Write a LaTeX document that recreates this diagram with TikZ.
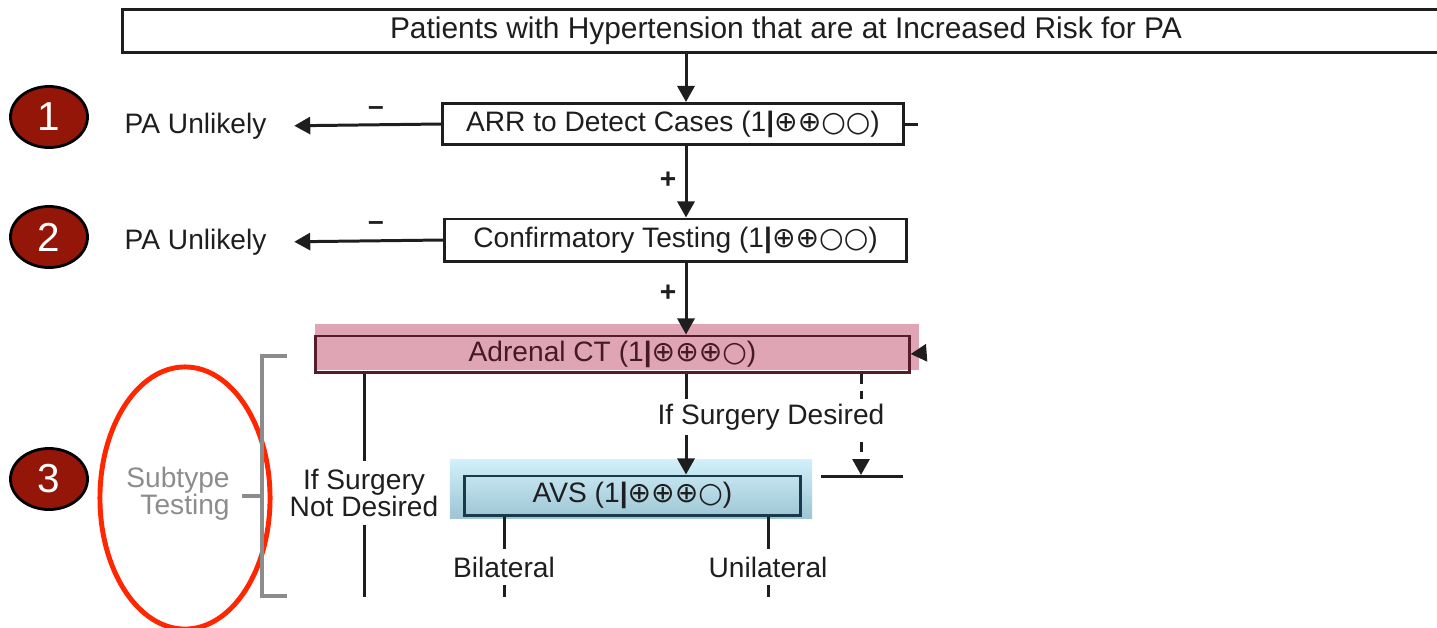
\documentclass[tikz,border=0pt]{standalone}
\usepackage{fontspec}
\setmainfont{Liberation Sans}
\newfontfamily\symfont{DejaVu Sans}
\usepackage{xcolor}
\usetikzlibrary{positioning,arrows.meta,shapes.geometric}
\definecolor{numred}{RGB}{148,22,8}
\definecolor{ctpink}{RGB}{223,165,180}
\definecolor{ctline}{RGB}{85,28,45}
\definecolor{cttext}{RGB}{70,25,38}
\definecolor{avstop}{RGB}{208,240,250}
\definecolor{avsbot}{RGB}{158,197,212}
\definecolor{avsline}{RGB}{25,58,72}
\definecolor{brkgray}{RGB}{140,140,140}
\definecolor{hlred}{RGB}{255,38,0}
\definecolor{ink}{RGB}{30,30,30}
\tikzset{
  box/.style={rectangle, draw=ink, line width=0.85pt, fill=white, inner sep=0pt, font=\fontsize{8}{9.6}\selectfont, text=ink},
  ctbox/.style={box, draw=ctline, fill=none, text=cttext},
  avsbox/.style={box, draw=avsline, fill=none},
  ctbg/.style={rectangle, fill=ctpink, inner sep=0pt},
  avsbg/.style={rectangle, top color=avstop, bottom color=avsbot, inner sep=0pt},
  num/.style={ellipse, fill=numred, draw=black, line width=0.8pt, minimum width=0.77cm, minimum height=0.61cm, text=white, font=\fontsize{11.5}{13}\selectfont, inner sep=0pt},
  lbl/.style={font=\fontsize{8}{7.7}\selectfont, text=ink, inner sep=2pt},
  ln/.style={draw=ink, line width=0.85pt},
  arr/.style={ln, -{Triangle[width=0.17cm,length=0.16cm]}},
  dasharr/.style={arr, dash pattern=on 0.1cm off 0.07cm},
  brk/.style={draw=brkgray, line width=0.9pt},
  hl/.style={ellipse, draw=hlred, line width=1.4pt, minimum width=1.7cm, minimum height=2.62cm}
}
\newcommand{\grade}[1]{(1\textbf{|}{\symfont #1})}

\begin{document}
\begin{tikzpicture}[x=0.01cm, y=-0.01cm]
  \useasboundingbox (0,0) rectangle (1437,627);
  \clip (0,0) rectangle (1437,627);
  \coordinate (c1) at (686,0);
  \node[box, minimum width=13.26cm, minimum height=0.43cm, font=\fontsize{8.5}{10}\selectfont] (top) at (786,31) {Patients with Hypertension that are at Increased Risk for PA};
  \node[box, minimum width=4.6cm, minimum height=0.41cm] (arrt) at (673,124) {ARR to Detect Cases \grade{⊕⊕○○}};
  \node[box, minimum width=4.61cm, minimum height=0.42cm] (conf) at (675.5,240) {Confirmatory Testing \grade{⊕⊕○○}};
  \node[ctbg, minimum width=6.04cm, minimum height=0.46cm] (ctb) at (617,347) {};
  \node[ctbox, minimum width=5.93cm, minimum height=0.36cm] (ct) at (612.5,354) {Adrenal CT \grade{⊕⊕⊕○}};
  \node[avsbg, minimum width=3.62cm, minimum height=0.58cm] (avsb) at (631,489) {};
  \node[avsbox, minimum width=3.35cm, minimum height=0.39cm] (avs) at (632.5,495.5) {AVS \grade{⊕⊕⊕○}};

  \node[num] (n1) at (49,117) {1};
  \node[num] (n2) at (49,237) {2};
  \node[num] (n3) at (49,479) {3};

  \node[lbl, anchor=west] (pa1) at (117,126) {PA Unlikely};
  \node[lbl, anchor=west] (pa2) at (117,242) {PA Unlikely};
  \node[lbl] (m1) at (376,111) {\textbf{--}};
  \node[lbl] (m2) at (376,226) {\textbf{--}};
  \node[lbl] (p1) at (668,180) {\textbf{+}};
  \node[lbl] (p2) at (668,293) {\textbf{+}};

  \draw[arr] (top.south -| c1) -- (arrt.north -| c1);
  \draw[arr] (arrt.south -| c1) -- (conf.north -| c1);
  \draw[arr] (conf.south -| c1) -- (ct.north -| c1);
  \draw[arr, shorten >=0.2cm] (arrt.west) -- (pa1.east);
  \draw[arr, shorten >=0.2cm] (conf.west) -- (pa2.east);
  \coordinate (s1) at (918,124);
  \draw[ln] (arrt.east) -- (s1);
  \coordinate (s2) at (924,353);
  \draw[arr] (s2) -- (ct.east);

  \node[lbl, align=right, text=brkgray] (sub) at (178,494) {Subtype\\Testing};
  \node[hl] (ring) at (185,498) {};
  \coordinate (bt) at (287,356);
  \coordinate (bm) at (262,496);
  \coordinate (bb) at (287,596);
  \coordinate (tk) at (242,496);
  \draw[brk] (bt) -| (bm) |- (bb);
  \draw[brk] (tk) -- (bm);

  \node[lbl, align=center] (nsd) at (364,493) {If Surgery\\Not Desired};
  \coordinate (ndx) at (364,597);
  \draw[ln] (ct.south -| nsd) -- (nsd);
  \draw[ln] (nsd) -- (ndx);

  \coordinate (dl) at (861,475);
  \coordinate (h1) at (821,476);
  \coordinate (h2) at (903,476);
  \draw[arr] (ct.south -| c1) -- (avs.north -| c1);
  \draw[dasharr] (ct.south -| dl) -- (dl);
  \draw[ln] (h1) -- (h2);
  \node[lbl, fill=white, inner ysep=1.5pt] (sd) at (771,417) {If Surgery Desired};

  \node[lbl] (bil) at (504,567) {Bilateral};
  \node[lbl] (uni) at (768,567) {Unilateral};
  \coordinate (bx) at (504,597);
  \coordinate (ux) at (768,597);
  \draw[ln] (avs.south -| bil) -- (bil);
  \draw[ln] (avs.south -| uni) -- (uni);
  \draw[ln] (bil) -- (bx);
  \draw[ln] (uni) -- (ux);
\end{tikzpicture}
\end{document}
